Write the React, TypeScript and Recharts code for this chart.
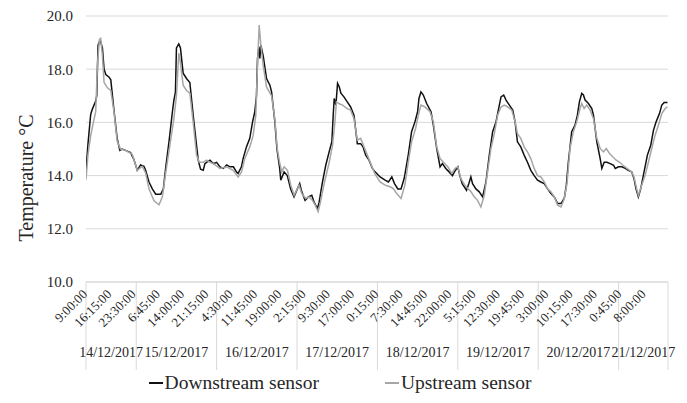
import { LineChart, Line, XAxis, YAxis, CartesianGrid, Legend, Label } from "recharts";

const FONT = '"Liberation Serif", "Times New Roman", serif';
const BLACK = "#111111";
const GRAY = "#a6a6a6";
const GRID = "#d9d9d9";
const TEXT = "#262626";

// [hours after 14/12/2017 9:00, temperature °C]
const downstream: [number, number][] = [
  [0, 14.2], [0.6, 15.2], [1.4, 16.3], [1.9, 16.5], [2.9, 16.8], [3.2, 17.0], [3.6, 18.9], [4.2, 19.1],
  [4.9, 18.8], [5.4, 18.0], [5.9, 17.8], [6.9, 17.7], [7.4, 17.6], [8.4, 16.4], [9.3, 15.4], [10.1, 14.95],
  [10.8, 15.0], [11.8, 14.95], [13.3, 14.87], [14.3, 14.6], [15.3, 14.2], [16.3, 14.4], [17.3, 14.35],
  [17.8, 14.2], [18.8, 13.76], [19.8, 13.5], [20.8, 13.3], [22.3, 13.3], [23.1, 13.5], [23.8, 14.3],
  [24.8, 15.3], [25.8, 16.4], [26.2, 16.8], [26.7, 17.15], [27.0, 18.8], [27.7, 18.95], [28.2, 18.8],
  [29.0, 17.85], [30.0, 17.65], [31.0, 17.5], [32.0, 16.27], [33.0, 15.14], [33.5, 14.58], [34.2, 14.24],
  [35.0, 14.2], [35.5, 14.45], [36.0, 14.5], [37.0, 14.58], [38.0, 14.45], [39.0, 14.5], [40.0, 14.33],
  [41.0, 14.27], [42.0, 14.4], [43.0, 14.33], [44.0, 14.33], [44.9, 14.14], [45.4, 14.08], [46.4, 14.33],
  [46.9, 14.64], [47.9, 15.08], [48.9, 15.4], [49.7, 16.0], [50.4, 16.4], [50.9, 17.0], [51.2, 18.4],
  [51.6, 18.85], [51.9, 18.4], [52.2, 18.9], [52.9, 18.5], [53.9, 17.65], [54.9, 17.4], [55.4, 17.15],
  [56.4, 16.0], [57.0, 15.0], [57.8, 14.3], [58.15, 13.83], [59.15, 14.14], [60.1, 14.0], [61.1, 13.5],
  [62.1, 13.2], [63.1, 13.5], [63.8, 13.7], [64.4, 13.4], [65.4, 13.07], [66.4, 13.2], [67.4, 13.26],
  [68.1, 13.0], [69.1, 12.76], [69.6, 13.0], [70.6, 13.76], [71.6, 14.4], [72.6, 14.9], [73.4, 15.27],
  [73.8, 16.27], [74.1, 16.9], [74.6, 16.65], [75.1, 17.47], [75.6, 17.34], [76.1, 17.1], [77.0, 16.96],
  [78.0, 16.77], [79.0, 16.58], [80.0, 16.27], [81.0, 15.2], [82.0, 15.2], [82.7, 15.08], [83.5, 14.77],
  [84.5, 14.58], [85.5, 14.27], [86.3, 14.14], [87.8, 13.95], [89.3, 13.83], [90.3, 13.76], [91.3, 13.95],
  [92.1, 13.7], [93.1, 13.5], [94.05, 13.5], [95.0, 13.9], [96.2, 14.77], [97.2, 15.65], [98.2, 16.02],
  [99.0, 16.4], [99.4, 16.9], [100.0, 17.15], [100.7, 17.03], [101.7, 16.71], [103.0, 16.4], [103.7, 15.9],
  [104.7, 15.02], [105.7, 14.33], [106.4, 14.45], [107.4, 14.27], [108.4, 14.14], [109.4, 14.0],
  [110.0, 14.14], [111.0, 14.33], [111.6, 14.0], [112.3, 13.7], [113.6, 13.45], [114.3, 13.7],
  [114.9, 13.95], [115.4, 13.7], [116.4, 13.5], [117.4, 13.39], [118.4, 13.2], [119.4, 13.76],
  [120.4, 14.77], [121.4, 15.65], [122.4, 16.02], [123.4, 16.65], [123.9, 16.96], [124.7, 17.03],
  [125.4, 16.84], [126.4, 16.65], [127.4, 16.46], [128.1, 16.02], [128.8, 15.27], [129.8, 15.08],
  [130.8, 14.77], [131.8, 14.5], [132.8, 14.2], [133.8, 14.0], [134.8, 13.83], [135.8, 13.76],
  [136.8, 13.7], [137.8, 13.5], [138.8, 13.33], [139.8, 13.2], [140.8, 12.95], [141.8, 12.95],
  [142.8, 13.15], [143.4, 13.64], [144.0, 14.5], [145.0, 15.65], [146.0, 15.9], [146.7, 16.27],
  [147.3, 16.77], [148.0, 17.09], [148.5, 17.03], [149.0, 16.84], [150.0, 16.71], [151.0, 16.52],
  [151.5, 16.27], [152.5, 15.27], [153.5, 14.64], [154.0, 14.27], [154.7, 14.5], [155.5, 14.5],
  [156.5, 14.45], [157.5, 14.39], [158.0, 14.27], [159.0, 14.33], [160.0, 14.33], [161.0, 14.27],
  [161.9, 14.2], [162.9, 14.14], [163.6, 13.89], [164.2, 13.5], [164.9, 13.2], [165.6, 13.5],
  [166.6, 14.14], [167.6, 14.77], [168.6, 15.14], [169.4, 15.7], [170.2, 16.02], [171.2, 16.33],
  [171.9, 16.65], [172.6, 16.75], [173.6, 16.75],
];

const upstream: [number, number][] = [
  [0, 13.85], [0.6, 14.8], [1.4, 15.5], [2.2, 16.0], [2.9, 16.4], [3.4, 18.15], [4.0, 19.1], [4.4, 19.15],
  [4.9, 18.5], [5.4, 17.5], [6.4, 17.3], [7.4, 17.2], [8.35, 16.4], [9.3, 15.3], [10.3, 15.0],
  [11.8, 14.95], [13.8, 14.8], [15.3, 14.2], [16.8, 14.35], [17.8, 14.1], [18.8, 13.5], [20.3, 13.05],
  [21.8, 12.9], [22.8, 13.2], [23.8, 14.1], [24.75, 14.9], [26.2, 16.1], [27.0, 17.0], [27.7, 18.6],
  [28.03, 18.4], [29.0, 17.4], [30.0, 17.2], [31.0, 17.1], [32.0, 16.0], [33.0, 14.77], [33.8, 14.5],
  [35.0, 14.5], [36.0, 14.58], [37.0, 14.5], [38.0, 14.45], [40.0, 14.27], [41.95, 14.33], [43.94, 14.2],
  [45.43, 13.95], [46.43, 14.14], [47.4, 14.64], [48.9, 15.08], [49.9, 15.5], [50.7, 16.27], [51.2, 18.15],
  [51.7, 19.66], [52.2, 18.9], [52.9, 18.15], [53.9, 17.33], [55.4, 17.0], [56.4, 16.1], [57.1, 15.0],
  [57.8, 14.5], [58.45, 14.14], [59.15, 14.33], [60.14, 14.2], [61.13, 13.64], [62.13, 13.26],
  [63.6, 13.64], [64.4, 13.33], [65.6, 13.14], [66.6, 13.2], [67.6, 13.07], [68.4, 12.9], [69.3, 12.64],
  [70.0, 13.0], [71.0, 13.64], [72.6, 14.5], [73.6, 15.14], [74.3, 16.0], [74.76, 16.77], [75.6, 16.7],
  [76.6, 16.65], [78.0, 16.52], [79.0, 16.46], [80.0, 16.14], [81.0, 15.33], [82.0, 15.4], [83.0, 15.08],
  [84.0, 14.77], [85.0, 14.45], [86.3, 14.05], [87.8, 13.76], [89.3, 13.64], [90.8, 13.58], [91.8, 13.5],
  [92.75, 13.33], [94.05, 13.14], [95.2, 13.64], [96.2, 14.5], [97.2, 15.27], [98.4, 15.77], [99.2, 16.27],
  [100.0, 16.65], [101.2, 16.58], [102.7, 16.4], [103.7, 16.02], [104.7, 15.08], [105.7, 14.64],
  [106.7, 14.5], [108.0, 14.33], [109.2, 14.08], [110.2, 14.27], [111.0, 14.33], [111.9, 13.89],
  [113.1, 13.64], [114.1, 13.5], [114.9, 13.4], [115.9, 13.2], [116.9, 13.07], [117.9, 12.82],
  [118.9, 13.26], [119.9, 14.14], [120.9, 15.02], [121.9, 15.58], [122.9, 16.27], [123.9, 16.58],
  [124.9, 16.65], [125.9, 16.58], [127.1, 16.46], [128.1, 16.02], [128.8, 15.58], [129.8, 15.4],
  [130.8, 15.08], [131.8, 14.89], [132.8, 14.64], [133.8, 14.27], [134.8, 14.0], [135.8, 13.95],
  [136.8, 13.76], [137.8, 13.5], [138.8, 13.39], [139.8, 13.2], [140.8, 12.89], [141.8, 12.82],
  [142.7, 13.1], [143.6, 13.7], [144.5, 15.02], [145.5, 15.65], [146.5, 16.02], [147.5, 16.52],
  [148.0, 16.71], [148.7, 16.52], [149.5, 16.65], [150.5, 16.46], [151.5, 16.14], [152.5, 15.4],
  [153.5, 15.02], [154.5, 14.89], [155.3, 15.02], [156.3, 14.83], [157.3, 14.7], [158.3, 14.58],
  [159.3, 14.5], [160.3, 14.39], [161.5, 14.27], [162.9, 14.14], [163.6, 13.95], [164.4, 13.5],
  [164.9, 13.26], [165.9, 13.64], [166.9, 14.0], [167.9, 14.5], [168.9, 15.02], [169.9, 15.52],
  [170.9, 15.9], [171.9, 16.33], [172.9, 16.52], [173.6, 16.58],
];

const timeLabels = [
  "9:00:00", "16:15:00", "23:30:00", "6:45:00", "14:00:00", "21:15:00", "4:30:00", "11:45:00",
  "19:00:00", "2:15:00", "9:30:00", "17:00:00", "0:15:00", "7:30:00", "14:45:00", "22:00:00",
  "5:15:00", "12:30:00", "19:45:00", "3:00:00", "10:15:00", "17:30:00", "0:45:00", "8:00:00",
];
const TICK_STEP = 7.25; // every 29th 15-minute reading
const dayLabels = [
  "14/12/2017", "15/12/2017", "16/12/2017", "17/12/2017",
  "18/12/2017", "19/12/2017", "20/12/2017", "21/12/2017",
];
const dayEdges = [0, 15, 39, 63, 87, 111, 135, 159, 173.75];
const yTicks = [10, 12, 14, 16, 18, 20];

const END = dayEdges[dayEdges.length - 1];
const timeTicks = timeLabels.map((_, i) => i * TICK_STEP);
const dayMids = dayLabels.map((_, i) => (dayEdges[i] + dayEdges[i + 1]) / 2);
const axisTicks = Array.from(new Set([...timeTicks, ...dayEdges, ...dayMids])).sort((a, b) => a - b);

const toRows = (pts: [number, number][]) => pts.map(([h, t]) => ({ h, t }));
const downRows = toRows(downstream);
const upRows = toRows(upstream);

function AxisTick({ x, y, payload }: any) {
  const v = payload.value;
  const ti = timeTicks.indexOf(v);
  const di = dayMids.indexOf(v);
  return (
    <g>
      {dayEdges.includes(v) && <line x1={x} x2={x} y1={y} y2={y + 88} stroke={GRID} />}
      {ti >= 0 && (
        <text
          x={x + 2}
          y={y + 13}
          transform={`rotate(-45 ${x + 2} ${y + 13})`}
          textAnchor="end"
          fontSize={13}
          fill={TEXT}
          fontFamily={FONT}
        >
          {timeLabels[ti]}
        </text>
      )}
      {di >= 0 && (
        <text x={x} y={y + 75} textAnchor="middle" fontSize={14} fill={TEXT} fontFamily={FONT}>
          {dayLabels[di]}
        </text>
      )}
    </g>
  );
}

function AxisTitle({ viewBox }: any) {
  const x = viewBox.x + 26;
  const y = viewBox.y + viewBox.height / 2 + 29;
  return (
    <text
      x={x}
      y={y}
      transform={`rotate(-90 ${x} ${y})`}
      textAnchor="middle"
      dominantBaseline="central"
      fontSize={20}
      fill={TEXT}
      fontFamily={FONT}
    >
      Temperature °C
    </text>
  );
}

const legendItems = [
  { name: "Downstream sensor", color: BLACK },
  { name: "Upstream sensor", color: GRAY },
];

function renderLegend() {
  return (
    <div
      style={{
        display: "flex",
        justifyContent: "center",
        alignItems: "center",
        gap: 66,
        height: 30,
        paddingLeft: 12,
        fontFamily: FONT,
        fontSize: 19.5,
        color: TEXT,
      }}
    >
      {legendItems.map((s) => (
        <span key={s.name} style={{ display: "flex", alignItems: "center" }}>
          <span style={{ display: "inline-block", width: 14, borderTop: `2px solid ${s.color}`, marginRight: 2 }} />
          {s.name}
        </span>
      ))}
    </div>
  );
}

export default function App() {
  return (
    <div style={{ position: "absolute", left: 0, top: 0, fontFamily: FONT }}>
      <LineChart width={687} height={403} margin={{ top: 16, right: 19, bottom: 5, left: 0 }}>
        <CartesianGrid vertical={false} stroke={GRID} />
        <XAxis
          type="number"
          dataKey="h"
          domain={[0, END]}
          ticks={axisTicks}
          interval={0}
          tick={(p: any) => <AxisTick {...p} />}
          tickLine={false}
          tickSize={0}
          tickMargin={0}
          axisLine={{ stroke: GRID }}
          height={86}
          allowDataOverflow
        />
        <YAxis
          domain={[10, 20]}
          ticks={yTicks}
          tickFormatter={(v: number) => v.toFixed(1)}
          axisLine={false}
          tickLine={false}
          tickSize={0}
          tickMargin={13}
          width={86}
          tick={{ fontSize: 15, fill: TEXT, fontFamily: FONT }}
        >
          <Label content={AxisTitle} />
        </YAxis>
        <Legend verticalAlign="bottom" height={30} content={renderLegend} />
        <Line
          data={downRows}
          dataKey="t"
          name="Downstream sensor"
          type="linear"
          stroke={BLACK}
          strokeWidth={1.5}
          dot={false}
          isAnimationActive={false}
        />
        <Line
          data={upRows}
          dataKey="t"
          name="Upstream sensor"
          type="linear"
          stroke={GRAY}
          strokeWidth={1.5}
          dot={false}
          isAnimationActive={false}
        />
      </LineChart>
    </div>
  );
}
